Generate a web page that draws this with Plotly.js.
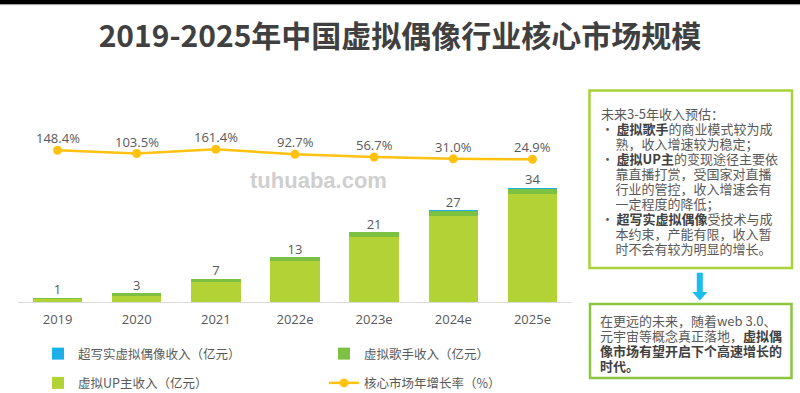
<!DOCTYPE html>
<html>
<head>
<meta charset="utf-8">
<script src="https://cdn.plot.ly/plotly-3.0.1.min.js"></script>
<style>
  html, body { margin: 0; padding: 0; background: #ffffff; }
  #chart { width: 800px; height: 393px; }
</style>
</head>
<body>
<div id="chart"></div>
<script>
// ---------- data ----------
const categories = ['2019', '2020', '2021', '2022e', '2023e', '2024e', '2025e'];
const upRevenue = [0.75, 1.7, 5.8, 11.9, 19.1, 25.3, 31.7];          // 虚拟UP主收入（亿元）
const singerRevenue = [0.5, 0.9, 1.0, 1.2, 1.3, 1.3, 1.4];           // 虚拟歌手收入（亿元）
const hyperRealRevenue = [0.02, 0.03, 0.05, 0.1, 0.15, 0.35, 0.45];  // 超写实虚拟偶像收入（亿元）
const totalLabels = ['1', '3', '7', '13', '21', '27', '34'];
const growthRate = [148.4, 103.5, 161.4, 92.7, 56.7, 31.0, 24.9];    // 核心市场年增长率（%）

const seriesNames = {
  hyper: '超写实虚拟偶像收入（亿元）',
  singer: '虚拟歌手收入（亿元）',
  up: '虚拟UP主收入（亿元）',
  growth: '核心市场年增长率（%）'
};

const chartTitle = '2019-2025年中国虚拟偶像行业核心市场规模';

// note box 1: kind 'head' | 'bullet' | 'cont'
const noteLines1 = [
  ['head',   '未来3-5年收入预估：'],
  ['bullet', '<b><span style="color:#404040">虚拟歌手</span></b>的商业模式较为成'],
  ['cont',   '熟，收入增速较为稳定；'],
  ['bullet', '<b><span style="color:#404040">虚拟UP主</span></b>的变现途径主要依'],
  ['cont',   '靠直播打赏，受国家对直播'],
  ['cont',   '行业的管控，收入增速会有'],
  ['cont',   '一定程度的降低；'],
  ['bullet', '<b><span style="color:#404040">超写实虚拟偶像</span></b>受技术与成'],
  ['cont',   '本约束，产能有限，收入暂'],
  ['cont',   '时不会有较为明显的增长。']
];
const noteLines2 = [
  '在更远的未来，随着web 3.0、',
  '元宇宙等概念真正落地，<b><span style="color:#404040">虚拟偶</span></b>',
  '<b><span style="color:#404040">像市场有望开启下个高速增长的</span></b>',
  '<b><span style="color:#404040">时代。</span></b>'
];
const watermark = 'tuhuaba.com';

// ---------- geometry helpers (pixel -> paper) ----------
const W = 800, H = 393;
const M = { l: 18, r: 228, t: 100, b: 91 };
const PW = W - M.l - M.r, PH = H - M.t - M.b;
const px = v => (v - M.l) / PW;
const py = v => (H - M.b - v) / PH;

const FONT = '"Open Sans", "Noto Sans CJK SC", sans-serif';
const CJK = '"Noto Sans CJK SC", "Open Sans", sans-serif';
const GRAY = '#595959';

const totals = categories.map((c, i) => upRevenue[i] + singerRevenue[i] + hyperRealRevenue[i]);

const traces = [
  {
    type: 'bar', x: categories, y: upRevenue, name: seriesNames.up,
    marker: { color: '#B2D235', line: { width: 0 } },
    legend: 'legend', legendgroup: 'up', legendrank: 2, hoverinfo: 'skip'
  },
  {
    type: 'bar', x: categories, y: singerRevenue, name: seriesNames.singer,
    marker: { color: '#7DC142', line: { width: 0 } },
    legend: 'legend2', legendgroup: 'singer', legendrank: 1, hoverinfo: 'skip'
  },
  {
    type: 'bar', x: categories, y: hyperRealRevenue, name: seriesNames.hyper,
    marker: { color: '#1CB0E8', line: { width: 0 } },
    legend: 'legend', legendgroup: 'hyper', legendrank: 1, hoverinfo: 'skip'
  },
  {
    type: 'scatter', mode: 'text', x: categories, y: totals, text: totalLabels,
    textposition: 'top center', textfont: { size: 13, color: GRAY, family: FONT },
    showlegend: false, hoverinfo: 'skip', cliponaxis: false
  },
  {
    type: 'scatter', mode: 'lines+markers', x: categories, y: growthRate, yaxis: 'y2',
    name: seriesNames.growth,
    line: { color: '#FFC20E', width: 2.5 },
    marker: { color: '#FFC20E', size: 9 },
    legend: 'legend2', legendgroup: 'growth', legendrank: 2, hoverinfo: 'skip', cliponaxis: false
  }
];

const shapes = [
  // top black band
  { type: 'rect', xref: 'paper', yref: 'paper', x0: px(0), x1: px(800), y0: py(0), y1: py(4),
    fillcolor: '#000000', line: { width: 0 }, layer: 'above' },
  { type: 'line', xref: 'paper', yref: 'paper', x0: px(0), x1: px(800), y0: py(4.6), y1: py(4.6),
    line: { color: '#9a9a9a', width: 1 } },
  // note box 1
  { type: 'rect', xref: 'paper', yref: 'paper', x0: px(589.5), x1: px(792), y0: py(268), y1: py(90.5),
    line: { color: '#A9D13A', width: 2.5 }, fillcolor: 'rgba(0,0,0,0)' },
  // note box 2
  { type: 'rect', xref: 'paper', yref: 'paper', x0: px(590), x1: px(791.5), y0: py(378), y1: py(304),
    line: { color: '#8CC63F', width: 2.5 }, fillcolor: 'rgba(0,0,0,0)' },
  // down arrow
  { type: 'path', xref: 'paper', yref: 'paper',
    path: 'M ' + px(696.8) + ' ' + py(272.7) + ' L ' + px(702.8) + ' ' + py(272.7) +
          ' L ' + px(702.8) + ' ' + py(292) + ' L ' + px(707.5) + ' ' + py(292) +
          ' L ' + px(699.8) + ' ' + py(300.5) + ' L ' + px(692.2) + ' ' + py(292) +
          ' L ' + px(696.8) + ' ' + py(292) + ' Z',
    fillcolor: '#1DBCEF', line: { width: 0 } }
];

// multi-line notes: base font sets the 15px line pitch, inner span sets 13px glyphs
const BASE = 15 / 1.3;
const big = t => '<span style="font-size:13px">' + t + '</span>';
const gap = w => '<span style="font-size:' + w + 'px">\u3000</span>';
const note1Text = noteLines1.map(([kind, t]) => {
  if (kind === 'head') return big(t);
  if (kind === 'bullet') return big('•') + gap(2.5) + big(t);
  return gap(14.5) + big(t);
}).join('<br>');
const note2Text = noteLines2.map(big).join('<br>');

const annotations = [
  { xref: 'paper', yref: 'paper', x: px(318), y: py(180), text: '<b>' + watermark + '</b>',
    showarrow: false, xanchor: 'center', yanchor: 'middle',
    font: { family: '"Liberation Sans", Arial, sans-serif', size: 22, color: '#cfcfcf' } },
  { xref: 'paper', yref: 'paper', x: px(599.5), y: py(180.7), text: note1Text,
    showarrow: false, xanchor: 'left', yanchor: 'middle', align: 'left', borderpad: 0,
    font: { family: CJK, size: BASE, color: GRAY } },
  { xref: 'paper', yref: 'paper', x: px(598.5), y: py(342.5), text: note2Text,
    showarrow: false, xanchor: 'left', yanchor: 'middle', align: 'left', borderpad: 0,
    font: { family: CJK, size: BASE, color: GRAY } }
];

// growth-rate labels, placed through the x (category index) and y2 scales
categories.forEach((c, i) => {
  annotations.push({
    xref: 'x', yref: 'y2', x: i, y: growthRate[i], yshift: 12,
    text: growthRate[i].toFixed(1) + '%', showarrow: false,
    xanchor: 'center', yanchor: 'middle', borderpad: 0,
    font: { family: FONT, size: 13, color: GRAY }
  });
});

const legendBase = {
  orientation: 'v', xanchor: 'left', yanchor: 'top', xref: 'paper', yref: 'paper',
  traceorder: 'grouped', tracegroupgap: 10, itemwidth: 30,
  bgcolor: 'rgba(0,0,0,0)', borderwidth: 0,
  font: { family: CJK, size: 12.5, color: GRAY }
};

const layout = {
  width: W, height: H,
  margin: { l: M.l, r: M.r, t: M.t, b: M.b, autoexpand: false },
  paper_bgcolor: '#ffffff', plot_bgcolor: '#ffffff',
  font: { family: FONT, color: GRAY },
  title: {
    text: '<b>' + chartTitle + '</b>', xref: 'container', yref: 'container',
    x: 0.5, xanchor: 'center', y: 1 - 36 / H, yanchor: 'middle',
    font: { family: CJK, size: 30, color: '#404040' }
  },
  barmode: 'stack', bargap: 0.377,
  xaxis: {
    type: 'category', categoryorder: 'array', categoryarray: categories,
    range: [-0.5, categories.length - 0.5],
    showline: true, linecolor: '#d9d9d9', linewidth: 1,
    ticks: '', showgrid: false, zeroline: false, ticklabelstandoff: 5,
    tickfont: { family: FONT, size: 13, color: GRAY }, fixedrange: true
  },
  yaxis: {
    range: [0, 59.2], showgrid: false, zeroline: false, showline: false,
    showticklabels: false, ticks: '', fixedrange: true
  },
  yaxis2: {
    overlaying: 'y', side: 'right', range: [-1923, 834], showgrid: false, zeroline: false,
    showline: false, showticklabels: false, ticks: '', fixedrange: true
  },
  legend: Object.assign({}, legendBase, { x: px(38), y: py(339) }),
  legend2: Object.assign({}, legendBase, { x: px(324), y: py(339) }),
  shapes: shapes,
  annotations: annotations,
  showlegend: true
};

Plotly.newPlot('chart', traces, layout, { displayModeBar: false, staticPlot: true });
</script>
</body>
</html>
